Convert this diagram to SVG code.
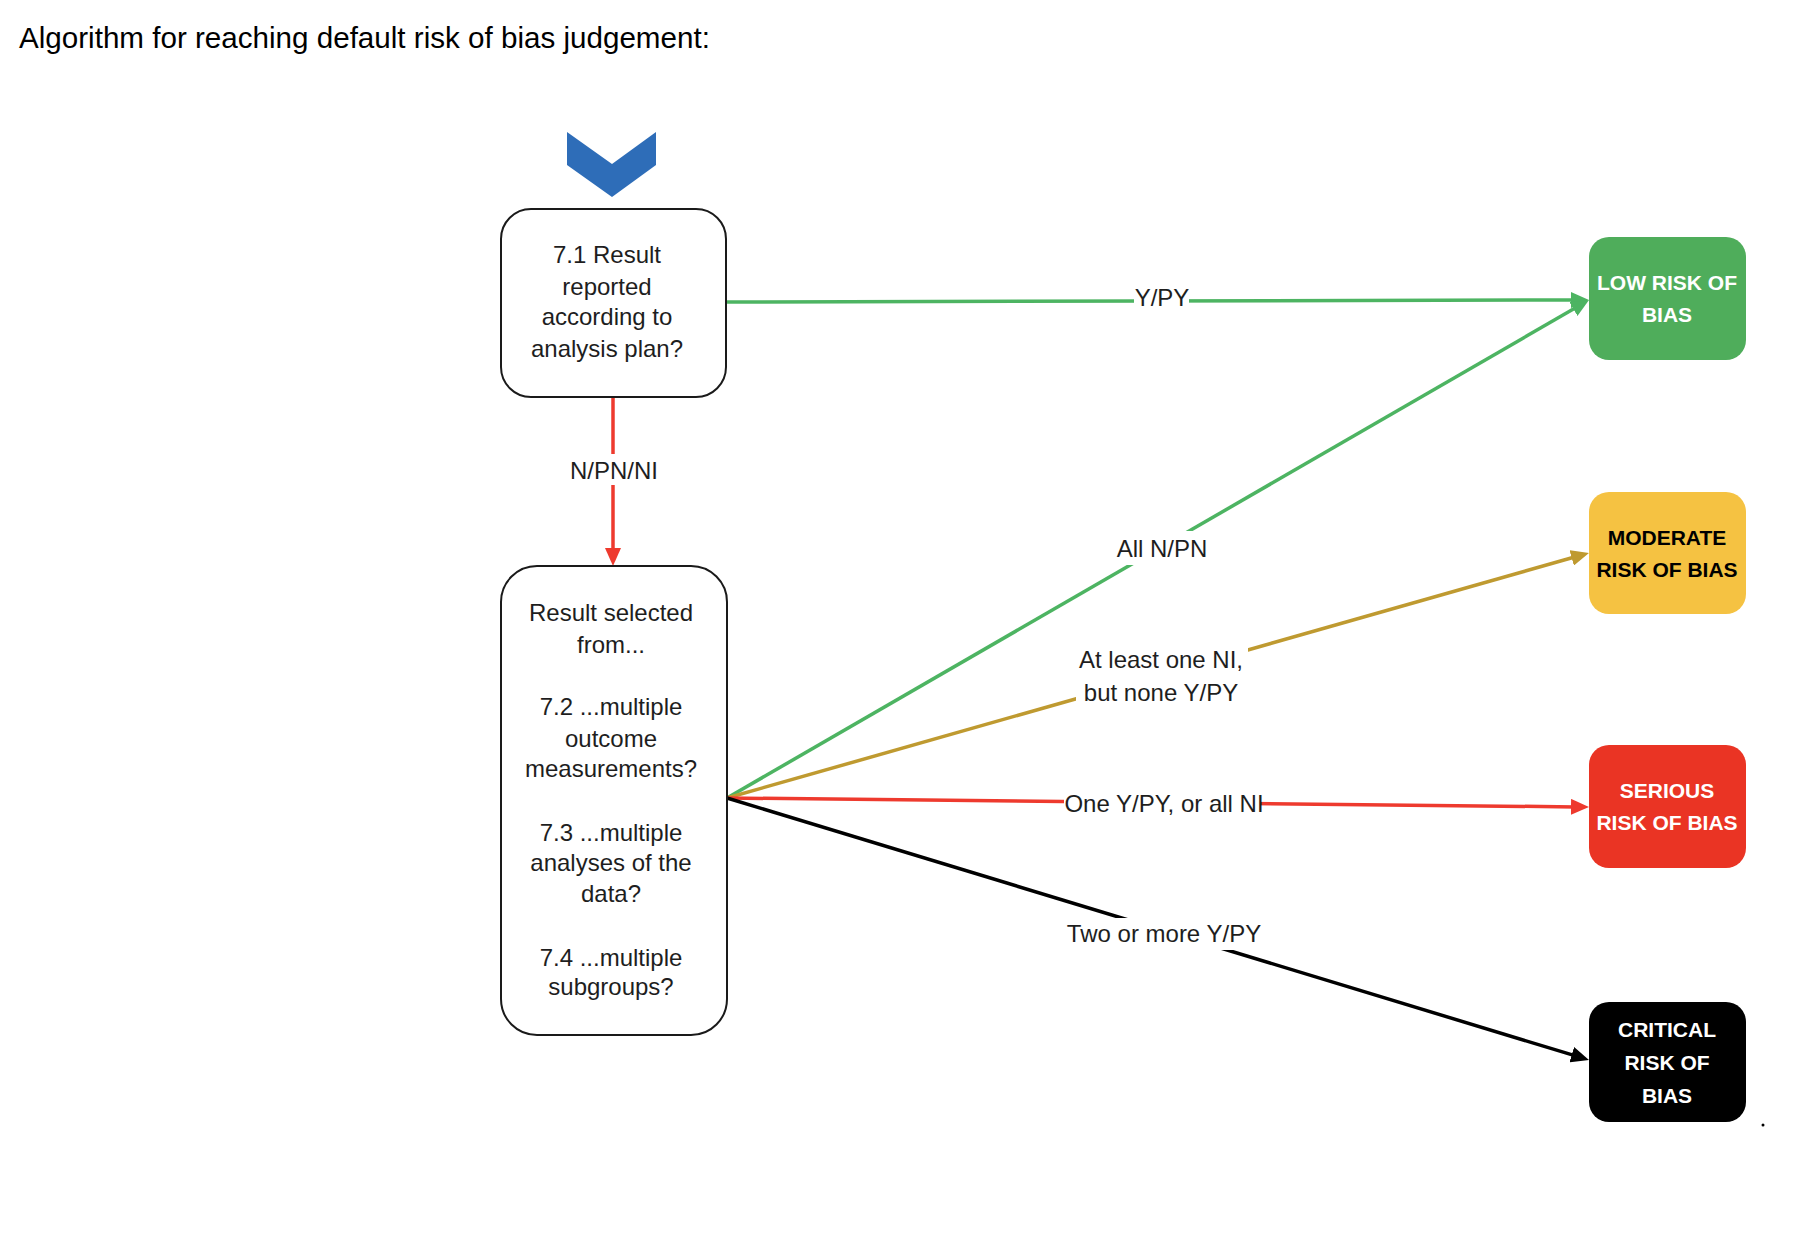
<svg xmlns="http://www.w3.org/2000/svg" width="1812" height="1244" viewBox="0 0 1812 1244">
  <style>
    text { font-family: "Liberation Sans", Arial, sans-serif; }
    .q { font-size: 24px; fill: #1e1e1e; text-anchor: middle; }
    .lbl { font-size: 24px; fill: #1e1e1e; text-anchor: middle; }
    .res { font-size: 21px; font-weight: bold; text-anchor: middle; }
    .qbox { fill: #ffffff; stroke: #1a1a1a; stroke-width: 2; }
    .ln { fill: none; stroke-width: 3.5; }
    .gap { fill: #ffffff; }
  </style>
  <defs>
    <marker id="ahGreen" markerUnits="userSpaceOnUse" markerWidth="18" markerHeight="16" viewBox="0 0 18 16" refX="4" refY="8" orient="auto">
      <path d="M0,0 L18,8 L0,16 z" fill="#4db462"/>
    </marker>
    <marker id="ahGold" markerUnits="userSpaceOnUse" markerWidth="18" markerHeight="16" viewBox="0 0 18 16" refX="4" refY="8" orient="auto">
      <path d="M0,0 L18,8 L0,16 z" fill="#bf9a30"/>
    </marker>
    <marker id="ahRed" markerUnits="userSpaceOnUse" markerWidth="18" markerHeight="16" viewBox="0 0 18 16" refX="4" refY="8" orient="auto">
      <path d="M0,0 L18,8 L0,16 z" fill="#ee3a2e"/>
    </marker>
    <marker id="ahBlack" markerUnits="userSpaceOnUse" markerWidth="18" markerHeight="16" viewBox="0 0 18 16" refX="4" refY="8" orient="auto">
      <path d="M0,0 L18,8 L0,16 z" fill="#000000"/>
    </marker>
  </defs>

  <rect x="0" y="0" width="1812" height="1244" fill="#ffffff"/>

  <text id="title" x="19" y="48" font-size="29.6" fill="#000000">Algorithm for reaching default risk of bias judgement:</text>

  <g id="start-chevron">
    <polygon points="567,132 612,164 656,132 656,165 612,197 567,165" fill="#2e6db8"/>
  </g>

  <g id="connectors">
    <line class="ln" x1="613" y1="397" x2="613" y2="552" stroke="#ee3a2e" marker-end="url(#ahRed)"/>
    <line class="ln" x1="726" y1="302" x2="1575" y2="300" stroke="#4db462" marker-end="url(#ahGreen)"/>
    <line class="ln" x1="727" y1="798" x2="1576.9" y2="307" stroke="#4db462" marker-end="url(#ahGreen)"/>
    <line class="ln" x1="727" y1="798" x2="1575.5" y2="556.8" stroke="#bf9a30" marker-end="url(#ahGold)"/>
    <line class="ln" x1="727" y1="798" x2="1575" y2="806.9" stroke="#ee3a2e" marker-end="url(#ahRed)"/>
    <line class="ln" x1="727" y1="798" x2="1575.6" y2="1055.9" stroke="#000000" marker-end="url(#ahBlack)"/>

    <g id="label-npnni">
      <rect class="gap" x="566" y="454" width="96" height="31"/>
      <text class="lbl" x="614" y="479">N/PN/NI</text>
    </g>
    <g id="label-ypy">
      <rect class="gap" x="1134" y="290" width="55" height="20"/>
      <text class="lbl" x="1162" y="306">Y/PY</text>
    </g>
    <g id="label-allnpn">
      <rect class="gap" x="1113" y="531" width="97" height="34"/>
      <text class="lbl" x="1162" y="557">All N/PN</text>
    </g>
    <g id="label-atleast">
      <rect class="gap" x="1076" y="645" width="172" height="63"/>
      <text class="lbl" x="1161" y="668">At least one NI,</text>
      <text class="lbl" x="1161" y="701">but none Y/PY</text>
    </g>
    <g id="label-oneypy">
      <rect class="gap" x="1064" y="790" width="196" height="26"/>
      <text class="lbl" x="1164" y="812">One Y/PY, or all NI</text>
    </g>
    <g id="label-twoormore">
      <rect class="gap" x="1068" y="918" width="193" height="32"/>
      <text class="lbl" x="1164" y="942">Two or more Y/PY</text>
    </g>
  </g>

  <g id="node-7-1">
    <rect class="qbox" x="501" y="209" width="225" height="188" rx="30" ry="30"/>
    <text class="q" x="607" y="263">7.1 Result</text>
    <text class="q" x="607" y="295">reported</text>
    <text class="q" x="607" y="325">according to</text>
    <text class="q" x="607" y="357">analysis plan?</text>
  </g>

  <g id="node-7-2-7-4">
    <rect class="qbox" x="501" y="566" width="226" height="469" rx="36" ry="36"/>
    <text class="q" x="611" y="621">Result selected</text>
    <text class="q" x="611" y="653">from...</text>
    <text class="q" x="611" y="715">7.2 ...multiple</text>
    <text class="q" x="611" y="747">outcome</text>
    <text class="q" x="611" y="777">measurements?</text>
    <text class="q" x="611" y="841">7.3 ...multiple</text>
    <text class="q" x="611" y="871">analyses of the</text>
    <text class="q" x="611" y="902">data?</text>
    <text class="q" x="611" y="966">7.4 ...multiple</text>
    <text class="q" x="611" y="995">subgroups?</text>
  </g>

  <g id="node-low">
    <rect x="1589" y="237" width="157" height="123" rx="20" ry="20" fill="#4fad5b"/>
    <text class="res" x="1667" y="290" fill="#ffffff">LOW RISK OF</text>
    <text class="res" x="1667" y="322" fill="#ffffff">BIAS</text>
  </g>

  <g id="node-moderate">
    <rect x="1589" y="492" width="157" height="122" rx="20" ry="20" fill="#f5c242"/>
    <text class="res" x="1667" y="545" fill="#000000">MODERATE</text>
    <text class="res" x="1667" y="577" fill="#000000">RISK OF BIAS</text>
  </g>

  <g id="node-serious">
    <rect x="1589" y="745" width="157" height="123" rx="20" ry="20" fill="#ea3424"/>
    <text class="res" x="1667" y="798" fill="#ffffff">SERIOUS</text>
    <text class="res" x="1667" y="830" fill="#ffffff">RISK OF BIAS</text>
  </g>

  <g id="node-critical">
    <rect x="1589" y="1002" width="157" height="120" rx="20" ry="20" fill="#000000"/>
    <text class="res" x="1667" y="1037" fill="#ffffff">CRITICAL</text>
    <text class="res" x="1667" y="1070" fill="#ffffff">RISK OF</text>
    <text class="res" x="1667" y="1103" fill="#ffffff">BIAS</text>
  </g>

  <circle cx="1763" cy="1125" r="1.5" fill="#000000"/>
</svg>
